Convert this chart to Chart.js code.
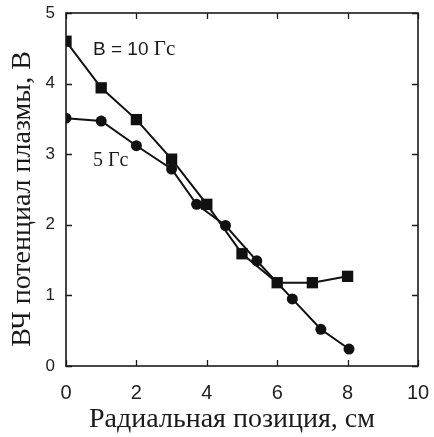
<!DOCTYPE html>
<html>
<head>
<meta charset="utf-8">
<script src="https://cdn.jsdelivr.net/npm/chart.js@4/dist/chart.umd.min.js"></script>
<style>
html,body{margin:0;padding:0;background:#fff;}
#wrap{width:434px;height:437px;position:relative;}
</style>
</head>
<body>
<div id="wrap"><canvas id="c" width="434" height="437"></canvas></div>
<script>
// Data
const xB10 = [0, 1, 2, 3, 4, 5, 6, 7, 8];
const yB10 = [4.60, 3.94, 3.49, 2.93, 2.29, 1.59, 1.18, 1.18, 1.27];
const xB5 = [0, 1, 2, 3, 3.71, 4.53, 5.42, 6.43, 7.24, 8.04];
const yB5 = [3.51, 3.47, 3.12, 2.79, 2.29, 1.99, 1.49, 0.95, 0.52, 0.24];
const xTicks = [0, 2, 4, 6, 8, 10];
const yTicks = [0, 1, 2, 3, 4, 5];
const xTitle = 'Радиальная позиция, см';
const yTitle = 'ВЧ потенциал плазмы, В';
const label10 = ['B = 10 ', 'Гс'];
const label5 = '5 Гс';

const toPts = (xs, ys) => xs.map((x, i) => ({x: x, y: ys[i]}));

const framePlugin = {
  id: 'frame',
  afterDraw(chart) {
    const ctx = chart.ctx;
    const a = chart.chartArea;
    const xs = chart.scales.x, ys = chart.scales.y;
    ctx.save();
    ctx.strokeStyle = '#1a1a1a';
    ctx.lineWidth = 1.6;
    ctx.strokeRect(a.left, a.top, a.right - a.left, a.bottom - a.top);
    const tl = 6;
    ctx.lineWidth = 1.3;
    ctx.beginPath();
    xTicks.forEach(v => {
      const px = Math.round(xs.getPixelForValue(v)) + 0.5;
      ctx.moveTo(px, a.bottom); ctx.lineTo(px, a.bottom - tl);
      ctx.moveTo(px, a.top); ctx.lineTo(px, a.top + tl);
    });
    yTicks.forEach(v => {
      const py = Math.round(ys.getPixelForValue(v)) + 0.5;
      ctx.moveTo(a.left, py); ctx.lineTo(a.left + tl, py);
      ctx.moveTo(a.right, py); ctx.lineTo(a.right - tl, py);
    });
    ctx.stroke();

    // axis titles
    ctx.fillStyle = '#1a1a1a';
    ctx.font = '28px "Liberation Serif"';
    ctx.textAlign = 'center';
    ctx.textBaseline = 'middle';
    ctx.fillText(xTitle, 232, 420);
    ctx.save();
    ctx.translate(23, 199);
    ctx.rotate(-Math.PI / 2);
    ctx.fillText(yTitle, 0, 0);
    ctx.restore();

    // series labels
    ctx.textAlign = 'left';
    ctx.textBaseline = 'alphabetic';
    ctx.font = '19px "Liberation Sans"';
    ctx.fillText(label10[0], 93, 55);
    const w = ctx.measureText(label10[0]).width;
    ctx.font = '21px "Liberation Serif"';
    ctx.fillText(label10[1], 93 + w, 55);
    ctx.font = '20px "Liberation Serif"';
    ctx.fillText(label5, 93, 166);
    ctx.restore();
  }
};

new Chart(document.getElementById('c'), {
  type: 'scatter',
  data: {
    datasets: [
      {
        data: toPts(xB10, yB10),
        showLine: true,
        borderColor: '#111',
        backgroundColor: '#111',
        borderWidth: 2,
        pointStyle: 'rect',
        pointRadius: 8,
        pointBorderWidth: 0,
        pointHoverRadius: 8
      },
      {
        data: toPts(xB5, yB5),
        showLine: true,
        borderColor: '#111',
        backgroundColor: '#111',
        borderWidth: 2,
        pointStyle: 'circle',
        pointRadius: 5.5,
        pointBorderWidth: 0,
        pointHoverRadius: 5.5
      }
    ]
  },
  options: {
    responsive: false,
    animation: false,
    events: [],
    layout: {padding: {top: 13, right: 16, left: 0, bottom: 0}},
    plugins: {legend: {display: false}, tooltip: {enabled: false}},
    scales: {
      x: {
        type: 'linear', min: 0, max: 10,
        grid: {display: false, drawTicks: false},
        border: {display: false},
        afterFit(s) { s.height = 71; s.paddingLeft = 0; s.paddingRight = 0; },
        afterBuildTicks(s) { s.ticks = xTicks.map(v => ({value: v})); },
        ticks: {color: '#222', font: {family: 'Liberation Sans', size: 20}, padding: 15, maxRotation: 0}
      },
      y: {
        type: 'linear', min: 0, max: 5,
        grid: {display: false, drawTicks: false},
        border: {display: false},
        afterFit(s) { s.width = 66; s.paddingTop = 0; s.paddingBottom = 0; },
        afterBuildTicks(s) { s.ticks = yTicks.map(v => ({value: v})); },
        ticks: {color: '#222', font: {family: 'Liberation Sans', size: 17}, padding: 11}
      }
    }
  },
  plugins: [framePlugin]
});
</script>
</body>
</html>
